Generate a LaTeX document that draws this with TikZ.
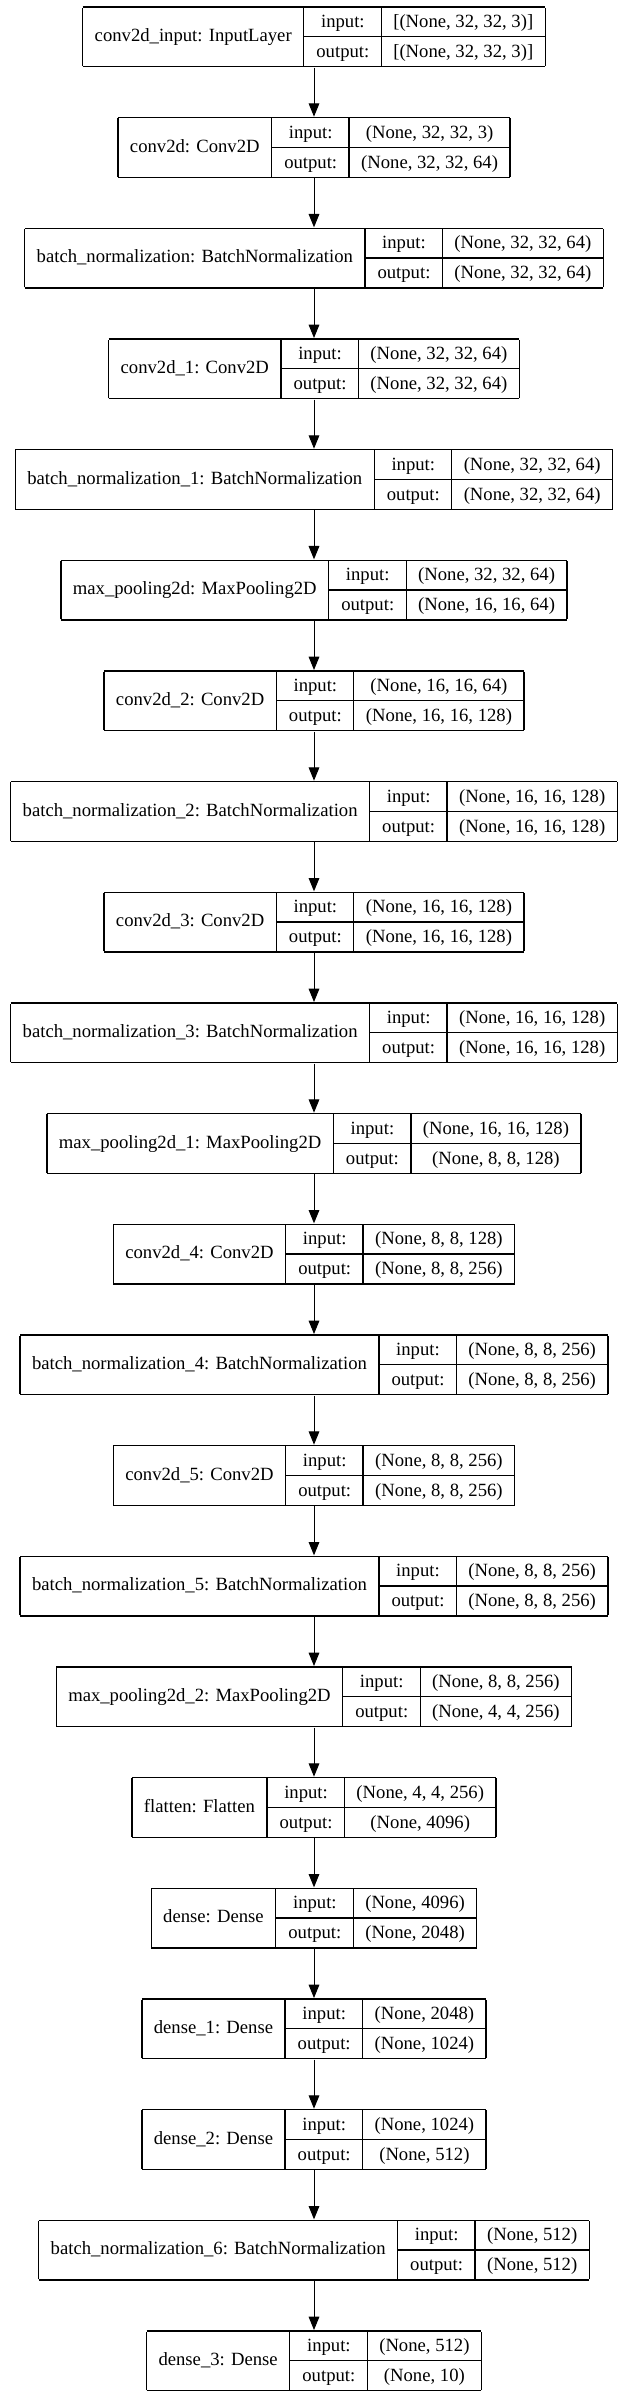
\documentclass[tikz,border=0pt]{standalone}
\usepackage{fontspec}
\setmainfont{Liberation Serif}
\usepackage{tikz}
\usetikzlibrary{arrows.meta}

\setlength\arrayrulewidth{1pt}
\setlength\tabcolsep{9pt}
\renewcommand\arraystretch{1.3375}
\newcommand\rowfont{\fontsize{14pt}{16pt}\selectfont}

\tikzset{
	layer/.style={inner sep=0pt, anchor=north, font=\rowfont},
	arr/.style={-{Triangle[length=10pt,width=8pt]}, line width=0.75pt},
}

% one keras layer: name, top (px), label, input shape, output shape
\newcommand\modelrow[5]{%
	\node[layer] (#1) at (314,-#2) {\begin{tabular}{|c|@{}c@{}|}\hline
		#3 & \begin{tabular}{c|c} input: & #4\\\hline output: & #5\end{tabular}\\\hline
	\end{tabular}};
}

\begin{document}
\begin{tikzpicture}[x=0.75pt, y=0.75pt]
	\fill[white] (0,0) rectangle (625,-2397);
	\useasboundingbox (0,0) rectangle (625,-2397);

	\modelrow{input}{6}{conv2d\_input: InputLayer}{[(None, 32, 32, 3)]}{[(None, 32, 32, 3)]}
	\modelrow{conv}{116.67}{conv2d: Conv2D}{(None, 32, 32, 3)}{(None, 32, 32, 64)}
	\modelrow{bn}{227.33}{batch\_normalization: BatchNormalization}{(None, 32, 32, 64)}{(None, 32, 32, 64)}
	\modelrow{conv1}{338}{conv2d\_1: Conv2D}{(None, 32, 32, 64)}{(None, 32, 32, 64)}
	\modelrow{bn1}{448.67}{batch\_normalization\_1: BatchNormalization}{(None, 32, 32, 64)}{(None, 32, 32, 64)}
	\modelrow{pool}{559.33}{max\_pooling2d: MaxPooling2D}{(None, 32, 32, 64)}{(None, 16, 16, 64)}
	\modelrow{conv2}{670}{conv2d\_2: Conv2D}{(None, 16, 16, 64)}{(None, 16, 16, 128)}
	\modelrow{bn2}{780.67}{batch\_normalization\_2: BatchNormalization}{(None, 16, 16, 128)}{(None, 16, 16, 128)}
	\modelrow{conv3}{891.33}{conv2d\_3: Conv2D}{(None, 16, 16, 128)}{(None, 16, 16, 128)}
	\modelrow{bn3}{1002}{batch\_normalization\_3: BatchNormalization}{(None, 16, 16, 128)}{(None, 16, 16, 128)}
	\modelrow{pool1}{1112.67}{max\_pooling2d\_1: MaxPooling2D}{(None, 16, 16, 128)}{(None, 8, 8, 128)}
	\modelrow{conv4}{1223.33}{conv2d\_4: Conv2D}{(None, 8, 8, 128)}{(None, 8, 8, 256)}
	\modelrow{bn4}{1334}{batch\_normalization\_4: BatchNormalization}{(None, 8, 8, 256)}{(None, 8, 8, 256)}
	\modelrow{conv5}{1444.67}{conv2d\_5: Conv2D}{(None, 8, 8, 256)}{(None, 8, 8, 256)}
	\modelrow{bn5}{1555.33}{batch\_normalization\_5: BatchNormalization}{(None, 8, 8, 256)}{(None, 8, 8, 256)}
	\modelrow{pool2}{1666}{max\_pooling2d\_2: MaxPooling2D}{(None, 8, 8, 256)}{(None, 4, 4, 256)}
	\modelrow{flat}{1776.67}{flatten: Flatten}{(None, 4, 4, 256)}{(None, 4096)}
	\modelrow{dense}{1887.33}{dense: Dense}{(None, 4096)}{(None, 2048)}
	\modelrow{dense1}{1998}{dense\_1: Dense}{(None, 2048)}{(None, 1024)}
	\modelrow{dense2}{2108.67}{dense\_2: Dense}{(None, 1024)}{(None, 512)}
	\modelrow{bn6}{2219.33}{batch\_normalization\_6: BatchNormalization}{(None, 512)}{(None, 512)}
	\modelrow{dense3}{2330}{dense\_3: Dense}{(None, 512)}{(None, 10)}

	\draw[arr] (input) -- (conv);
	\draw[arr] (conv) -- (bn);
	\draw[arr] (bn) -- (conv1);
	\draw[arr] (conv1) -- (bn1);
	\draw[arr] (bn1) -- (pool);
	\draw[arr] (pool) -- (conv2);
	\draw[arr] (conv2) -- (bn2);
	\draw[arr] (bn2) -- (conv3);
	\draw[arr] (conv3) -- (bn3);
	\draw[arr] (bn3) -- (pool1);
	\draw[arr] (pool1) -- (conv4);
	\draw[arr] (conv4) -- (bn4);
	\draw[arr] (bn4) -- (conv5);
	\draw[arr] (conv5) -- (bn5);
	\draw[arr] (bn5) -- (pool2);
	\draw[arr] (pool2) -- (flat);
	\draw[arr] (flat) -- (dense);
	\draw[arr] (dense) -- (dense1);
	\draw[arr] (dense1) -- (dense2);
	\draw[arr] (dense2) -- (bn6);
	\draw[arr] (bn6) -- (dense3);
\end{tikzpicture}
\end{document}
